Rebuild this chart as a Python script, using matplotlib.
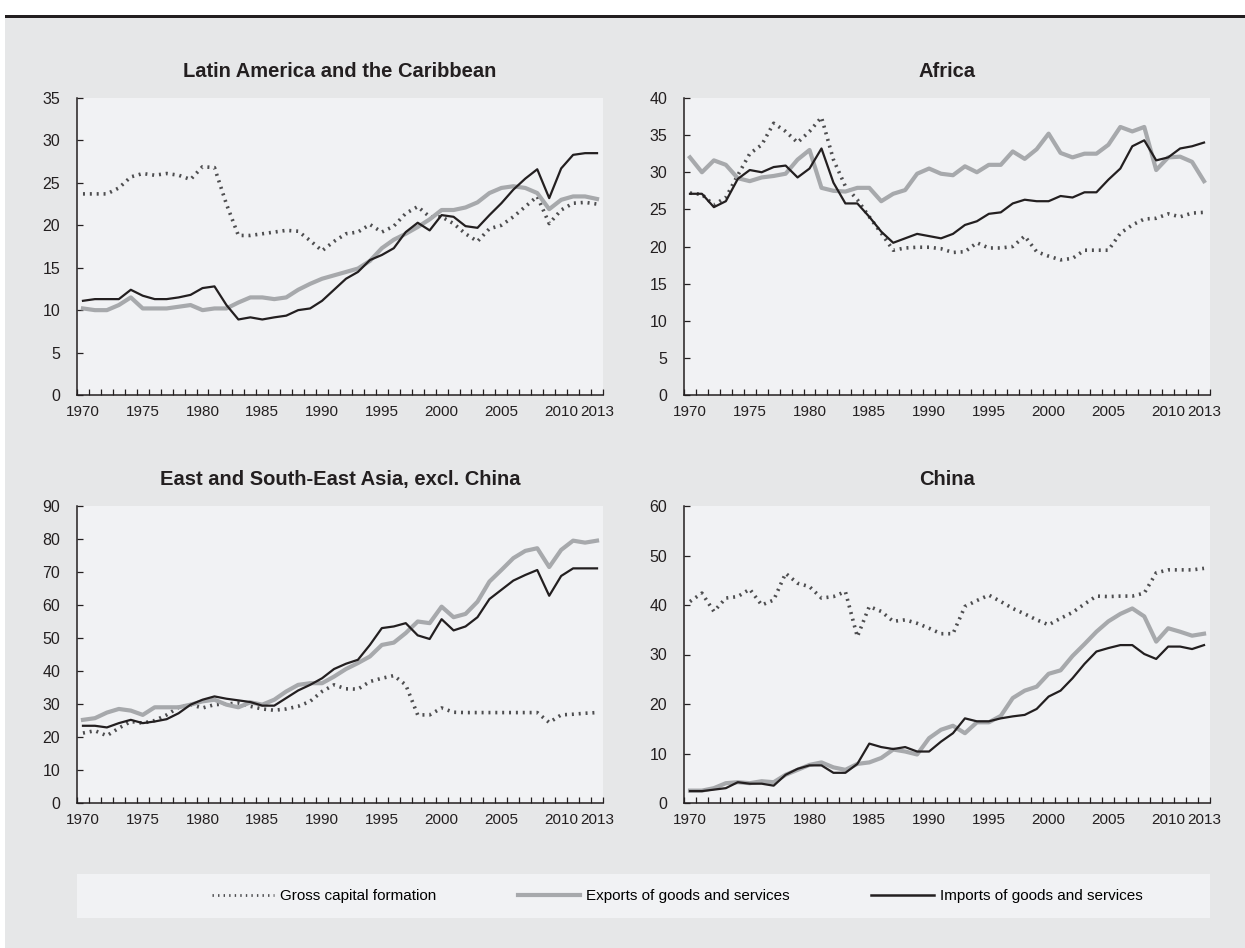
import numpy as np
import matplotlib
matplotlib.use('Agg')
import matplotlib.pyplot as plt
from matplotlib.lines import Line2D
from matplotlib.patches import Rectangle

plt.rcParams['font.family'] = ['Liberation Sans', 'DejaVu Sans']

years = np.arange(1970, 2014)

# Latin America and the Caribbean (% of GDP)
latam_gcf = [23.7, 23.7, 23.7, 24.4, 25.7, 26.1, 25.9, 26.1, 25.9, 25.4,
             26.9, 26.8, 22.5, 18.8, 18.8, 19.0, 19.2, 19.4, 19.3, 18.2,
             17.0, 18.1, 19.0, 19.2, 20.1, 19.2, 19.9, 21.4, 22.2, 21.0,
             21.0, 20.2, 19.0, 18.1, 19.6, 20.0, 21.0, 22.2, 23.4, 20.2,
             21.8, 22.6, 22.7, 22.5]
latam_exp = [10.2, 10.0, 10.0, 10.6, 11.5, 10.2, 10.2, 10.2, 10.4, 10.6,
             10.0, 10.2, 10.2, 10.9, 11.5, 11.5, 11.3, 11.5, 12.4, 13.1,
             13.7, 14.1, 14.5, 14.9, 15.8, 17.3, 18.3, 19.0, 19.8, 20.7,
             21.8, 21.8, 22.1, 22.7, 23.8, 24.4, 24.6, 24.4, 23.8, 21.9,
             23.0, 23.4, 23.4, 23.1]
latam_imp = [11.1, 11.3, 11.3, 11.3, 12.4, 11.7, 11.3, 11.3, 11.5, 11.8,
             12.6, 12.8, 10.6, 8.9, 9.15, 8.9, 9.15, 9.35, 10.0, 10.2,
             11.1, 12.4, 13.7, 14.5, 15.9, 16.5, 17.3, 19.2, 20.3, 19.4,
             21.2, 21.0, 19.9, 19.7, 21.2, 22.6, 24.2, 25.5, 26.6, 23.2,
             26.7, 28.3, 28.5, 28.5]

# Africa
africa_gcf = [27.2, 27.0, 25.6, 26.6, 29.6, 32.5, 33.7, 36.6, 35.5, 34.0,
              35.5, 37.4, 31.7, 28.1, 26.3, 24.0, 21.8, 19.5, 19.8, 19.9,
              19.9, 19.7, 19.2, 19.3, 20.5, 19.8, 19.8, 20.0, 21.4, 19.3,
              18.7, 18.2, 18.4, 19.5, 19.5, 19.5, 21.8, 22.9, 23.7, 23.8,
              24.4, 24.0, 24.5, 24.6]
africa_exp = [32.0, 30.0, 31.6, 31.0, 29.2, 28.8, 29.3, 29.5, 29.8, 31.7,
              33.0, 27.9, 27.5, 27.4, 27.9, 27.9, 26.1, 27.1, 27.6, 29.8,
              30.5, 29.8, 29.6, 30.8, 30.0, 31.0, 31.0, 32.8, 31.8, 33.1,
              35.2, 32.6, 32.0, 32.5, 32.5, 33.7, 36.1, 35.5, 36.1, 30.3,
              32.0, 32.1, 31.4, 28.8]
africa_imp = [27.1, 27.1, 25.3, 26.1, 29.1, 30.3, 30.0, 30.7, 30.9, 29.3,
              30.5, 33.2, 28.6, 25.8, 25.8, 24.0, 22.0, 20.5, 21.1, 21.7,
              21.4, 21.1, 21.7, 22.9, 23.4, 24.4, 24.6, 25.8, 26.3, 26.1,
              26.1, 26.8, 26.6, 27.3, 27.3, 29.0, 30.5, 33.5, 34.3, 31.6,
              32.0, 33.2, 33.5, 34.0]

# East and South-East Asia, excl. China
asia_gcf = [21.2, 21.9, 20.4, 22.7, 24.7, 24.2, 25.0, 26.7, 29.0, 29.8,
            28.8, 29.8, 30.0, 30.3, 29.3, 28.5, 28.1, 28.5, 29.3, 30.8,
            33.8, 35.8, 34.6, 34.5, 36.8, 37.8, 38.6, 35.8, 26.7, 26.7,
            28.8, 27.5, 27.4, 27.4, 27.4, 27.4, 27.4, 27.4, 27.4, 24.4,
            26.7, 26.9, 27.2, 27.4]
asia_exp = [25.2, 25.7, 27.4, 28.5, 28.0, 26.7, 29.0, 29.0, 29.0, 29.8,
            30.8, 31.3, 29.8, 29.0, 30.5, 29.8, 31.3, 33.8, 35.8, 36.3,
            36.3, 38.3, 40.6, 42.4, 44.4, 47.9, 48.6, 51.5, 55.0, 54.5,
            59.5, 56.3, 57.3, 61.0, 67.1, 70.6, 74.2, 76.4, 77.2, 71.5,
            76.7, 79.5, 78.9, 79.5]
asia_imp = [23.4, 23.4, 22.9, 24.2, 25.2, 24.2, 24.7, 25.4, 27.2, 29.8,
            31.3, 32.3, 31.6, 31.1, 30.6, 29.5, 29.5, 31.8, 34.1, 35.8,
            37.8, 40.6, 42.2, 43.4, 47.9, 53.0, 53.5, 54.5, 50.8, 49.7,
            55.7, 52.3, 53.5, 56.3, 61.8, 64.6, 67.4, 69.1, 70.6, 62.8,
            68.8, 71.1, 71.1, 71.1]

# China
china_gcf = [40.7, 42.4, 38.7, 41.4, 41.7, 43.2, 40.0, 41.0, 46.4, 44.4,
             43.7, 41.4, 41.7, 42.7, 33.6, 39.7, 38.7, 36.7, 37.0, 36.3,
             35.3, 34.2, 34.2, 39.7, 40.9, 42.0, 40.7, 39.3, 38.2, 37.0,
             36.0, 37.3, 38.5, 40.2, 41.8, 41.7, 41.8, 41.8, 42.4, 46.5,
             47.1, 47.1, 47.1, 47.4]
china_exp = [2.5, 2.5, 3.0, 4.0, 4.2, 4.0, 4.4, 4.2, 5.7, 6.7,
             7.7, 8.2, 7.2, 6.7, 7.9, 8.2, 9.1, 10.8, 10.4, 9.8,
             13.1, 14.8, 15.6, 14.1, 16.3, 16.3, 17.6, 21.2, 22.7, 23.5,
             26.1, 26.8, 29.7, 32.1, 34.6, 36.7, 38.2, 39.3, 37.7, 32.6,
             35.3, 34.6, 33.8, 34.2]
china_imp = [2.4, 2.4, 2.7, 3.0, 4.2, 3.9, 3.9, 3.5, 5.7, 6.9,
             7.6, 7.6, 6.1, 6.1, 7.9, 12.0, 11.3, 10.9, 11.3, 10.4,
             10.4, 12.4, 14.1, 17.1, 16.5, 16.5, 17.1, 17.5, 17.8, 19.0,
             21.5, 22.7, 25.2, 28.1, 30.6, 31.3, 31.9, 31.9, 30.1, 29.1,
             31.6, 31.6, 31.1, 31.9]

titles = ['Latin America and the Caribbean', 'Africa',
          'East and South-East Asia, excl. China', 'China']
series = [(latam_gcf, latam_exp, latam_imp), (africa_gcf, africa_exp, africa_imp),
          (asia_gcf, asia_exp, asia_imp), (china_gcf, china_exp, china_imp)]
ymax = [35, 40, 90, 60]
ystep = [5, 5, 10, 10]
labels = ['Gross capital formation', 'Exports of goods and services',
          'Imports of goods and services']

BG = '#e6e7e8'
PANEL = '#f1f2f4'
DARK = '#231f20'
GREY = '#a7a9ac'
DOT = '#4d4d4f'

W, H = 1245, 948
fig = plt.figure(figsize=(W / 100, H / 100), dpi=100)
fig.patch.set_facecolor('white')

# grey page with the heavy rule on top
fig.patches.append(Rectangle((5 / W, 0), 1, 1 - 18 / H, transform=fig.transFigure,
                             facecolor=BG, edgecolor='none', zorder=-10))
fig.patches.append(Rectangle((5 / W, 1 - 18 / H), 1, 3 / H, transform=fig.transFigure,
                             facecolor=DARK, edgecolor='none', zorder=-9))

lefts = [77, 684, 77, 684]
tops = [98, 98, 506, 506]
aw, ah = 526, 297

for i in range(4):
    ax = fig.add_axes([lefts[i] / W, 1 - (tops[i] + ah) / H, aw / W, ah / H])
    ax.set_facecolor(PANEL)
    gcf, exp, imp = series[i]
    ax.plot(years, gcf, color=DOT, lw=2.6, linestyle=(0, (0.55, 1.35)),
            dash_capstyle='butt', zorder=2)
    ax.plot(years, exp, color=GREY, lw=3.0, zorder=3)
    ax.plot(years, imp, color=DARK, lw=1.6, zorder=4)

    ax.set_xlim(1969.5, 2013.5)
    ax.set_ylim(0, ymax[i])
    ax.set_xticks([1970, 1975, 1980, 1985, 1990, 1995, 2000, 2005, 2010, 2013])
    ax.set_xticks(np.arange(1969.5, 2014, 1.0), minor=True)
    ax.set_yticks(np.arange(0, ymax[i] + 1, ystep[i]))
    ax.tick_params(axis='x', which='major', length=0, pad=7, labelsize=11,
                   labelcolor=DARK)
    ax.tick_params(axis='x', which='minor', direction='in', length=4.5,
                   width=0.9, color=DARK)
    ax.tick_params(axis='y', direction='in', length=4.5, width=0.9, color=DARK,
                   pad=12, labelsize=11.5, labelcolor=DARK)
    for s in ['top', 'right']:
        ax.spines[s].set_visible(False)
    for s in ['left', 'bottom']:
        ax.spines[s].set_color(DARK)
        ax.spines[s].set_linewidth(1.1)
    ax.set_title(titles[i], fontsize=14.5, fontweight='bold', color=DARK, pad=15)

# legend strip
fig.patches.append(Rectangle((77 / W, 1 - 918 / H), (1210 - 77) / W, 44 / H,
                             transform=fig.transFigure, facecolor=PANEL,
                             edgecolor='none', zorder=-5))
handles = [Line2D([], [], color=DOT, lw=2.0, linestyle=(0, (0.5, 1.5))),
           Line2D([], [], color=GREY, lw=3.0),
           Line2D([], [], color=DARK, lw=1.8)]
fig.legend(handles, labels, loc='center', bbox_to_anchor=(677 / W, 1 - 896 / H),
           ncol=3, frameon=False, handlelength=4.1, handletextpad=0.4,
           columnspacing=5.3, fontsize=11)

fig.savefig('out.png', dpi=100, facecolor=fig.get_facecolor())
